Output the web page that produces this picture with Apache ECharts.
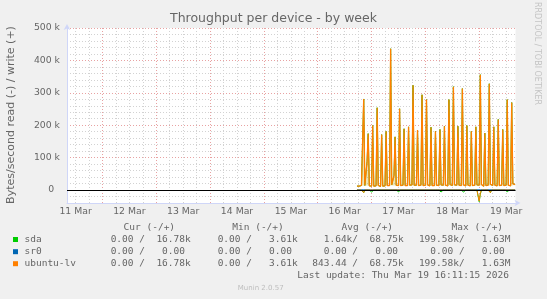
<!DOCTYPE html>
<html><head><meta charset="utf-8">
<script src="https://cdn.jsdelivr.net/npm/echarts@6/dist/echarts.min.js"></script>
<style>html,body{margin:0;padding:0;background:#f0f0f0}#c{width:547px;height:299px}</style>
</head><body><div id="c"></div><script>
// ---------- DATA ----------
const chartTitle = 'Throughput per device - by week';
const yAxisTitle = 'Bytes/second read (-) / write (+)';
const watermark = 'RRDTOOL / TOBI OETIKER';
const versionText = 'Munin 2.0.57';
const lastUpdate = 'Last update: Thu Mar 19 16:11:15 2026';

// x in hours since 11 Mar 00:00
const windowStartHour = 8.1875;   // 11 Mar 08:11:15
const windowEndHour = 208.1875;   // 19 Mar 16:11:15
const xTickLabels = ['11 Mar', '12 Mar', '13 Mar', '14 Mar', '15 Mar', '16 Mar', '17 Mar', '18 Mar', '19 Mar'];
const xTickHours = [12, 36, 60, 84, 108, 132, 156, 180, 204]; // label at noon of each day
const yTickLabels = ['0', '100 k', '200 k', '300 k', '400 k', '500 k'];
const yTickValues = [0, 100000, 200000, 300000, 400000, 500000];

// samples every 30 min starting 16 Mar 17:30
const firstSampleHour = 137.5;
const sampleStepHours = 0.5;

// write (+) in kB/s
const ubuntuLvWriteK = [
 12,13,12,15,14,13,281,14,12,88,
 174,13,11,12,199,12,11,13,254,14,
 12,11,171,12,15,13,181,14,12,14,
 436,16,14,45,164,15,13,14,251,14,
 13,15,189,14,16,14,195,15,14,16,
 323,15,14,15,185,14,13,15,294,14,
 13,15,279,16,14,13,194,14,13,14,
 181,15,13,14,187,16,14,15,197,15,
 14,13,279,17,15,14,319,16,14,15,
 197,15,13,14,313,16,14,13,199,15,
 14,13,181,14,13,15,195,16,14,15,
 356,17,13,12,176,14,13,15,328,18,
 15,14,195,15,14,13,218,14,13,15,
 187,14,16,15,279,15,14,13,270,20,
 15,16.78];
const sdaWriteK = [
 12,13,12,15,14,13,281,14,12,88,
 174,13,11,12,199,12,11,13,254,14,
 12,11,171,12,15,13,181,14,12,14,
 436,16,14,45,164,15,13,14,251,14,
 13,15,189,14,16,14,195,15,14,16,
 323,15,14,15,185,14,13,15,294,14,
 13,15,279,16,14,13,194,14,13,14,
 181,15,13,14,187,16,14,15,197,15,
 14,13,279,17,15,14,319,16,14,15,
 197,15,13,14,313,16,14,13,199,15,
 14,13,181,14,13,15,195,16,14,15,
 356,17,13,12,176,14,13,15,328,18,
 15,14,195,15,14,13,218,14,13,15,
 187,14,16,15,279,15,14,13,270,20,
 15,16.78];
const sr0WriteK = [
 0,0,0,0,0,0,0,0,0,0, 0,0,0,0,0,0,0,0,0,0, 0,0,0,0,0,0,0,0,0,0,
 0,0,0,0,0,0,0,0,0,0, 0,0,0,0,0,0,0,0,0,0, 0,0,0,0,0,0,0,0,0,0,
 0,0,0,0,0,0,0,0,0,0, 0,0,0,0,0,0,0,0,0,0, 0,0,0,0,0,0,0,0,0,0,
 0,0,0,0,0,0,0,0,0,0, 0,0,0,0,0,0,0,0,0,0, 0,0,0,0,0,0,0,0,0,0,
 0,0,0,0,0,0,0,0,0,0, 0,0,0,0,0,0,0,0,0,0, 0,0];
// read (-) in kB/s (plotted below zero)
const sdaReadK = [
 0,0,0,0,0,0,8,0,0,0,
 0,0,0,6,0,0,0,0,5,0,
 0,0,0,0,0,0,6,0,0,0,
 5,0,0,0,6,0,0,5,0,0,
 0,0,0,0,0,0,6,0,0,0,
 0,0,0,0,5,0,0,0,6,0,
 0,0,0,0,0,0,6,0,0,0,
 5,0,0,0,0,6,0,0,0,0,
 5,0,0,0,0,0,6,0,0,0,
 0,0,0,0,0,6,0,0,0,0,
 0,0,0,0,5,0,0,0,0,36,
 13,0,6,0,0,0,0,0,0,8,
 0,0,0,0,0,0,0,6,0,0,
 0,0,0,0,5,0,0,0,0,6,
 0,0];
const ubuntuLvReadK = [
 0,0,0,0,0,0,8,0,0,0,
 0,0,0,0,0,0,0,0,0,0,
 0,0,0,0,0,0,0,0,0,0,
 0,0,0,0,0,0,0,0,0,0,
 0,0,0,0,0,0,4,0,0,0,
 0,0,0,0,0,0,0,0,0,0,
 0,0,0,0,0,0,0,0,0,0,
 0,0,0,0,0,0,0,0,0,0,
 0,0,0,0,0,0,4,0,0,0,
 0,0,0,0,0,0,0,0,0,0,
 0,0,0,0,0,0,0,0,0,34,
 10,0,0,0,0,0,0,0,0,8,
 0,0,0,0,0,0,0,4,0,0,
 0,0,0,0,0,0,0,0,0,0,
 0,0];
const sr0ReadK = [
 0,0,0,0,0,0,0,0,0,0, 0,0,0,0,0,0,0,0,0,0, 0,0,0,0,0,0,0,0,0,0,
 0,0,0,0,0,0,0,0,0,0, 0,0,0,0,0,0,0,0,0,0, 0,0,0,0,0,0,0,0,0,0,
 0,0,0,0,0,0,0,0,0,0, 0,0,0,0,0,0,0,0,0,0, 0,0,0,0,0,0,0,0,0,0,
 0,0,0,0,0,0,0,0,0,0, 0,0,0,0,0,0,0,0,0,0, 0,0,0,0,0,0,0,0,0,0,
 0,0,0,0,0,0,0,0,0,0, 0,0,0,0,0,0,0,0,0,0, 0,0];

// legend table
const legendNames = ['sda', 'sr0', 'ubuntu-lv'];
const legendHeaders = ['Cur (-/+)', 'Min (-/+)', 'Avg (-/+)', 'Max (-/+)'];
const statCur = ['  0.00 /  16.78k', '  0.00 /   0.00 ', '  0.00 /  16.78k'];
const statMin = ['  0.00 /   3.61k', '  0.00 /   0.00 ', '  0.00 /   3.61k'];
const statAvg = ['  1.64k/  68.75k', '  0.00 /   0.00 ', '843.44 /  68.75k'];
const statMax = ['199.58k/   1.63M', '  0.00 /   0.00 ', '199.58k/   1.63M'];

// ---------- STYLE / BUILD ----------
const COLORS = {sda: '#00cc00', sr0: '#0066b3', lv: '#ff8000'};
const FONT_COLOR = '#666666';
const MINOR = '#d2d2d2', MAJOR = '#e8a2a2';
const SANS = '"DejaVu Sans", sans-serif';
const MONO = '"DejaVu Sans Mono", monospace';

const pts = (vals, sign) => vals.map((v, i) => [firstSampleHour + i * sampleStepHours, sign * v * 1000]);

function line(name, data, color, z, extra) {
  return Object.assign({
    type: 'line', name, data, symbol: 'none', showSymbol: false, silent: true,
    animation: false, z, lineStyle: {color, width: 1}, itemStyle: {color}
  }, extra || {});
}

const xMinorTicks = [];
for (let h = 12; h < windowEndHour; h += 6) xMinorTicks.push(h);

const legendRows = [239.5, 251.7, 263.7];
const cellX = [99.2, 206.2, 312.3, 418.9];
const headerX = [123.6, 232.3, 341.6, 451.6];
const graphic = [];
graphic.push({type: 'text', x: 273.5, y: 19, style: {text: chartTitle, font: '12.5px ' + SANS, fill: FONT_COLOR, align: 'center', verticalAlign: 'middle', textAlign: 'center', textVerticalAlign: 'middle'}});
graphic.push({type: 'text', x: 11, y: 115, rotation: Math.PI / 2, style: {text: yAxisTitle, font: '11px ' + SANS, fill: FONT_COLOR, align: 'center', verticalAlign: 'middle', textAlign: 'center', textVerticalAlign: 'middle'}});
graphic.push({type: 'text', x: 537.5, y: 53.5, rotation: -Math.PI / 2, style: {text: watermark, font: '8px ' + SANS, fill: '#c4c4c4', align: 'center', verticalAlign: 'middle', textAlign: 'center', textVerticalAlign: 'middle'}});
legendHeaders.forEach((h, i) => graphic.push({type: 'text', x: headerX[i], y: 227.5, style: {text: h, font: '9.5px ' + MONO, fill: FONT_COLOR, align: 'left', verticalAlign: 'middle', textAlign: 'left', textVerticalAlign: 'middle'}}));
const rowColors = [COLORS.sda, COLORS.sr0, COLORS.lv];
legendNames.forEach((n, r) => {
  const y = legendRows[r];
  graphic.push({type: 'rect', shape: {x: 13, y: y - 2.5, width: 5, height: 5}, style: {fill: rowColors[r]}});
  graphic.push({type: 'text', x: 24.5, y, style: {text: n, font: '9.5px ' + MONO, fill: FONT_COLOR, align: 'left', verticalAlign: 'middle', textAlign: 'left', textVerticalAlign: 'middle'}});
  [statCur, statMin, statAvg, statMax].forEach((col, c) => {
    graphic.push({type: 'text', x: cellX[c], y, style: {text: col[r], font: '9.5px ' + MONO, fill: FONT_COLOR, align: 'left', verticalAlign: 'middle', textAlign: 'left', textVerticalAlign: 'middle'}});
  });
});
graphic.push({type: 'text', x: 297.3, y: 275.5, style: {text: lastUpdate, font: '9.5px ' + MONO, fill: FONT_COLOR, align: 'left', verticalAlign: 'middle', textAlign: 'left', textVerticalAlign: 'middle'}});
graphic.push({type: 'text', x: 260.7, y: 288.3, style: {text: versionText, font: '7px ' + SANS, fill: '#bdbdbd', align: 'center', verticalAlign: 'middle', textAlign: 'center', textVerticalAlign: 'middle'}});

const option = {
  backgroundColor: '#f0f0f0',
  animation: false,
  grid: {left: 67, right: 31.5, top: 28, bottom: 96, show: true, backgroundColor: '#ffffff', borderWidth: 0, containLabel: false},
  xAxis: {
    type: 'value', min: windowStartHour, max: windowEndHour,
    axisLine: {show: true, onZero: false, lineStyle: {color: '#CFD6F8', width: 1}, symbol: ['none', 'arrow'], symbolSize: [5, 6], symbolOffset: [0, 5]},
    axisTick: {show: false, customValues: xMinorTicks},
    axisLabel: {customValues: xTickHours, formatter: v => xTickLabels[xTickHours.indexOf(v)] || '', color: FONT_COLOR, fontSize: 9.3, fontFamily: SANS, margin: 4},
    splitLine: {show: true, lineStyle: {color: [MINOR, MINOR, MAJOR, MINOR], type: [1, 2], width: 1}}
  },
  yAxis: {
    type: 'value', min: -40000, max: 500000, interval: 20000,
    axisLine: {show: true, lineStyle: {color: '#CFD6F8', width: 1}, symbol: ['none', 'arrow'], symbolSize: [5, 6], symbolOffset: [0, 4]},
    axisTick: {show: false},
    axisLabel: {color: FONT_COLOR, fontSize: 9.3, fontFamily: SANS, margin: 7,
      formatter: v => { const k = yTickValues.indexOf(v); return k < 0 ? '' : (v === 0 ? yTickLabels[k] + '  ' : yTickLabels[k]); }},
    splitLine: {show: true, lineStyle: {color: [MINOR, MINOR, MAJOR, MINOR, MINOR], type: [1, 2], width: 1}}
  },
  series: [
    line('sda', pts(sdaReadK, -1), COLORS.sda, 2),
    line('sda', pts(sdaWriteK, 1), COLORS.sda, 2),
    line('sr0', pts(sr0ReadK, -1), COLORS.sr0, 3),
    line('sr0', pts(sr0WriteK, 1), COLORS.sr0, 3),
    line('ubuntu-lv', pts(ubuntuLvReadK, -1), COLORS.lv, 4),
    line('ubuntu-lv', pts(ubuntuLvWriteK, 1), COLORS.lv, 4, {lineStyle: {color: COLORS.lv, width: 1.3}, areaStyle: {color: 'rgba(200,182,50,0.5)', origin: 14000}}),
    {type: 'line', name: 'zero', data: [], silent: true, z: 6,
     markLine: {silent: true, symbol: ['none', 'none'], label: {show: false}, animation: false,
       lineStyle: {color: '#000000', width: 1, type: 'solid'}, data: [{yAxis: 0}]}}
  ],
  graphic
};
const chart = echarts.init(document.getElementById('c'), null, {renderer: 'canvas'});
chart.setOption(option);
</script></body></html>
